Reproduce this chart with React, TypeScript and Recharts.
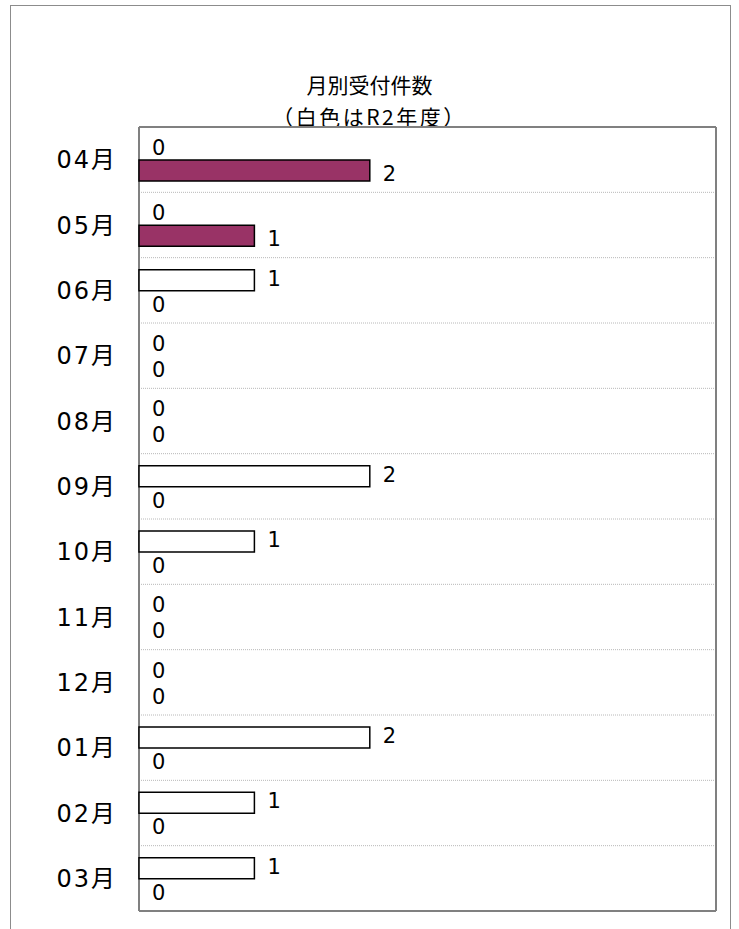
import React from 'react';
import { BarChart, Bar, XAxis, YAxis, CartesianGrid, LabelList, Cell } from 'recharts';

const months = ['04月', '05月', '06月', '07月', '08月', '09月', '10月', '11月', '12月', '01月', '02月', '03月'];
const r2Counts = [0, 0, 1, 0, 0, 2, 1, 0, 0, 2, 1, 1];
const currentCounts = [2, 1, 0, 0, 0, 0, 0, 0, 0, 0, 0, 0];

const data = months.map((m, i) => ({ month: m, r2: r2Counts[i], current: currentCounts[i] }));

const FONT = '"Noto Sans CJK JP", "Noto Sans", sans-serif';
const NUM_FONT = '"DejaVu Sans", "Noto Sans CJK JP", sans-serif';

// grid lines sit on the category boundaries, not the tick centres
const bandLines = ({ offset }: any) => {
  const n = months.length;
  const step = offset.height / n;
  return Array.from({ length: n - 1 }, (_, i) => offset.top + step * (i + 1));
};
const frameH = ({ offset }: any) => [offset.top, offset.top + offset.height];
const frameV = ({ offset }: any) => [offset.left, offset.left + offset.width];

// zero bars get a hair width so recharts keeps them (and their labels)
const keepZero = (v: any) => (Number(v) === 0 ? 0.01 : 0);

// shift: small vertical nudge so stacked "0" labels don't collide
const makeLabel = (shift: number) => (props: any) => {
  const { x, y, width, height, value } = props;
  return (
    <text
      x={Number(x) + Number(width) + 13}
      y={Number(y) + Number(height) / 2 + shift}
      dy="0.36em"
      fill="#000"
      fontSize={21}
      fontFamily={NUM_FONT}
    >
      {value}
    </text>
  );
};

const App: React.FC = () => {
  return (
    <div style={{ position: 'absolute', left: 0, top: 0, width: 739, height: 929, overflow: 'hidden', background: '#fff', fontFamily: FONT }}>
      <div style={{ position: 'absolute', left: 10, top: 5, width: 719, height: 1000, border: '1.5px solid #8c8c8c' }} />
      <div style={{ position: 'absolute', left: 0, top: 68, width: 739, textAlign: 'center', fontSize: 21, lineHeight: '32px', color: '#000' }}>
        <div>月別受付件数</div>
        <div style={{ letterSpacing: 2.5 }}>（白色はR2年度）</div>
      </div>
      <div style={{ position: 'absolute', left: 0, top: 0 }}>
        <BarChart
          width={739}
          height={929}
          data={data}
          layout="vertical"
          margin={{ top: 127, right: 23, bottom: 18, left: 0 }}
          barGap={0}
          barSize={21}
        >
          <CartesianGrid
            vertical={false}
            horizontalCoordinatesGenerator={bandLines}
            stroke="#b8b8b8"
            strokeDasharray="1 1"
          />
          <XAxis type="number" domain={[0, 5]} hide />
          <YAxis
            type="category"
            dataKey="month"
            width={139}
            axisLine={false}
            tickLine={false}
            tickSize={0}
            tickMargin={22}
            tick={{ fill: '#000', fontSize: 24, fontFamily: NUM_FONT, letterSpacing: 2 }}
          />
          <Bar dataKey="r2" fill="#ffffff" stroke="#000" strokeWidth={1.5} minPointSize={keepZero} isAnimationActive={false}>
            {r2Counts.map((v, i) => (
              <Cell key={i} stroke={v === 0 ? 'none' : '#000'} fillOpacity={v === 0 ? 0 : 1} />
            ))}
            <LabelList dataKey="r2" content={makeLabel(-2)} />
          </Bar>
          <Bar dataKey="current" fill="#993366" stroke="#000" strokeWidth={1.5} minPointSize={keepZero} isAnimationActive={false}>
            {currentCounts.map((v, i) => (
              <Cell key={i} stroke={v === 0 ? 'none' : '#000'} fillOpacity={v === 0 ? 0 : 1} />
            ))}
            <LabelList dataKey="current" content={makeLabel(3)} />
          </Bar>
          <CartesianGrid
            horizontalCoordinatesGenerator={frameH}
            verticalCoordinatesGenerator={frameV}
            stroke="#808080"
            strokeWidth={2}
            fill="none"
          />
        </BarChart>
      </div>
    </div>
  );
};

export default App;
